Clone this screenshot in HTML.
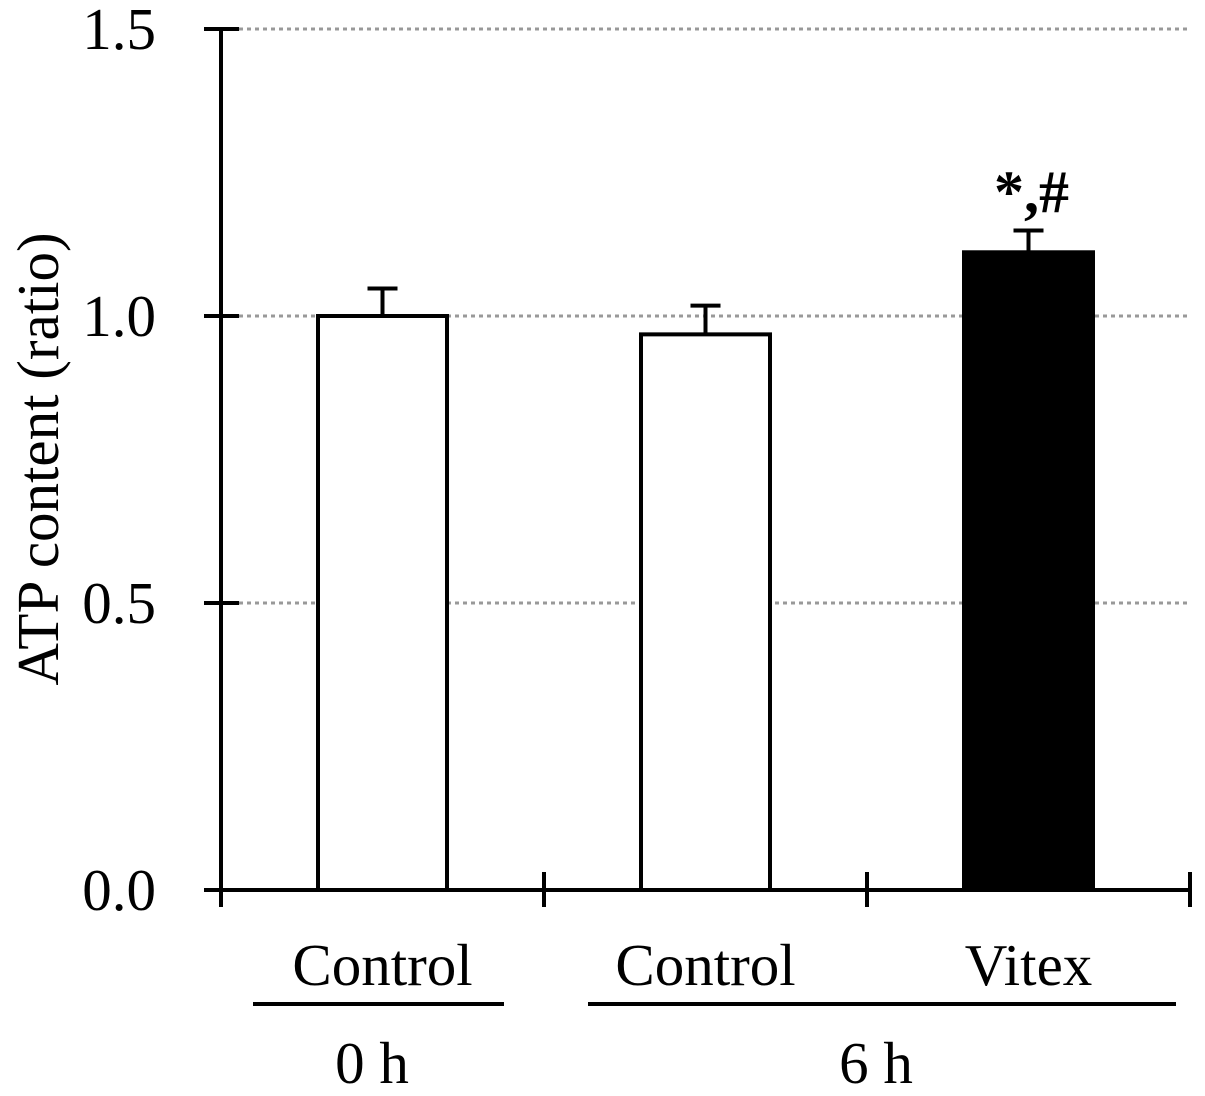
<!DOCTYPE html>
<html><head><meta charset="utf-8"><style>
html,body{margin:0;padding:0;background:#fff;}
svg{display:block;font-family:"Liberation Serif",serif;}
</style></head><body>
<svg id="chart" width="1205" height="1096" viewBox="0 0 1205 1096">
<g id="grid"></g><g id="bars"></g><g id="axes"></g><g id="labels"></g>
</svg>
<script>
const categories = ["Control", "Control", "Vitex"];
const values = [1.0, 0.968, 1.111];
const errors = [0.048, 0.05, 0.038];
const fills = ["#fff", "#fff", "#000"];
const yTicks = [0, 0.5, 1.0, 1.5];
const yTickLabels = ["0.0", "0.5", "1.0", "1.5"];
const annotations = ["", "", "*,#"];

const NS = "http://www.w3.org/2000/svg";
const y0 = 890, y1 = 29;
function yScale(v){ return y0 - (v/1.5)*(y0-y1); }
const xLeft = 221, slot = 323;
function xCenter(i){ return xLeft + slot*(i+0.5); }
const barW = 129;
function mk(tag, attrs, parent, text){
  const e = document.createElementNS(NS, tag);
  for (const k in attrs) e.setAttribute(k, attrs[k]);
  if (text !== undefined) e.textContent = text;
  parent.appendChild(e); return e;
}
const grid = document.getElementById('grid'), bars = document.getElementById('bars'),
      axes = document.getElementById('axes'), labels = document.getElementById('labels');

yTicks.forEach((t,i)=>{
  if (t > 0) {
    const g = mk('line',{x1:239,x2:1190,y1:yScale(t),y2:yScale(t),stroke:'#999','stroke-width':3,'stroke-dasharray':'4,4'},grid);
    
    
  }
  const tk = mk('line',{x1:204,x2:239,y1:yScale(t),y2:yScale(t),stroke:'#000','stroke-width':4},axes);
  
  
  const lb = mk('text',{x:156,y:yScale(t)+20,'font-size':59,'text-anchor':'end'},labels,yTickLabels[i]);
  
  
});

values.forEach((v,i)=>{
  const cx = xCenter(i), top = yScale(v), etop = yScale(v+errors[i]);
  const eb = mk('line',{x1:cx,x2:cx,y1:top,y2:etop,stroke:'#000','stroke-width':4},bars);
  
  
  const cap = mk('line',{x1:cx-15,x2:cx+15,y1:etop,y2:etop,stroke:'#000','stroke-width':4},bars);
  
  
  const r = mk('rect',{x:cx-barW/2,y:top,width:barW,height:y0-top,fill:fills[i],stroke:'#000','stroke-width':4},bars);
  
  
  const cl = mk('text',{x:cx,y:985,'font-size':59,'text-anchor':'middle'},labels,categories[i]);
  
  
  if (annotations[i]) {
    const an = mk('text',{x:cx+3,y:212,'font-size':60,'font-weight':'bold','text-anchor':'middle'},labels,annotations[i]);
    
    
  }
});

const ya = mk('line',{x1:221,x2:221,y1:29,y2:907,stroke:'#000','stroke-width':4},axes);


const xa = mk('line',{x1:204,x2:1190,y1:y0,y2:y0,stroke:'#000','stroke-width':4},axes);


[1,2,3].forEach(k=>{
  const x = xLeft + slot*k;
  const t = mk('line',{x1:x,x2:x,y1:872,y2:907,stroke:'#000','stroke-width':4},axes);
  
  
});
const b1 = mk('line',{x1:253,x2:504,y1:1004,y2:1004,stroke:'#000','stroke-width':4},axes);


const b2 = mk('line',{x1:588,x2:1176,y1:1004,y2:1004,stroke:'#000','stroke-width':4},axes);


const g1 = mk('text',{x:372,y:1083,'font-size':59,'text-anchor':'middle'},labels,'0 h');


const g2 = mk('text',{x:876,y:1083,'font-size':59,'text-anchor':'middle'},labels,'6 h');


const yt = mk('text',{x:0,y:0,'font-size':59,'text-anchor':'middle',transform:'translate(58,459) rotate(-90)'},labels,'ATP content (ratio)');


</script>
</body></html>
